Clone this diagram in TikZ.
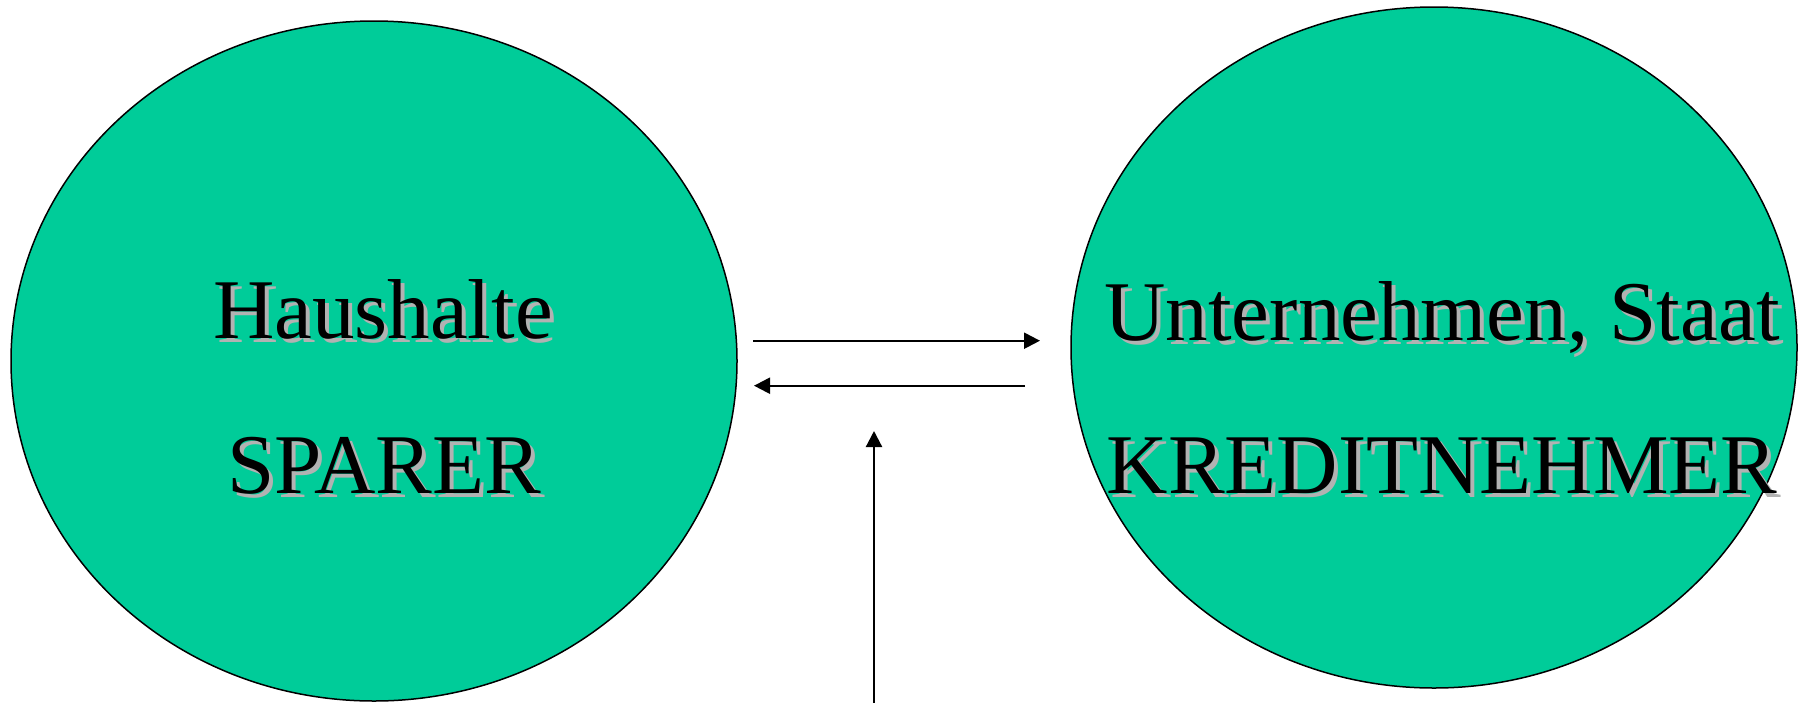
\documentclass[tikz,border=0pt]{standalone}
\usepackage{fontspec}
\setmainfont{Liberation Serif}
\usetikzlibrary{shapes.geometric,arrows.meta}
\definecolor{blobgreen}{HTML}{00CC99}
\definecolor{shadowgray}{HTML}{B2B2B2}
\begin{document}
\begin{tikzpicture}[x=1pt,y=-1pt,
  blob/.style={ellipse,draw=black,line width=1.5pt,fill=blobgreen,inner sep=0pt},
  label/.style={anchor=base,inner sep=0pt,font=\fontsize{85}{100}\selectfont},
  shadowlabel/.style={label,text=shadowgray},
  flow/.style={line width=2.2pt,-{Triangle[length=16pt,width=16pt]}}]
\useasboundingbox (0,0) rectangle (1798,702);
\fill[white] (0,0) rectangle (1798,702);
\node[blob,minimum width=726pt,minimum height=680pt] (left) at (374,361) {};
\node[blob,minimum width=726pt,minimum height=681pt] (right) at (1434,347.5) {};
% texts with shadows
\node[shadowlabel] (hs) at (387,342) {Haushalte};
\node[label] (h) at (383,338) {Haushalte};
\node[shadowlabel] (ss) at (388,497) {SPARER};
\node[label] (s) at (384,493) {SPARER};
\node[shadowlabel] (us) at (1446,344) {Unternehmen, Staat};
\node[label] (u) at (1442,340) {Unternehmen, Staat};
\node[shadowlabel] (ks) at (1446,497) {KREDITNEHMER};
\node[label] (k) at (1442,493) {KREDITNEHMER};
% connectors
\coordinate (a1s) at (753,340.7);
\coordinate (a1e) at (1040,340.7);
\coordinate (a2s) at (1025,385.7);
\coordinate (a2e) at (754,385.7);
\coordinate (a3s) at (874,703);
\coordinate (a3e) at (874,431);
\draw[flow] (a1s) -- (a1e);
\draw[flow] (a2s) -- (a2e);
\draw[flow] (a3s) -- (a3e);
\end{tikzpicture}
\end{document}
